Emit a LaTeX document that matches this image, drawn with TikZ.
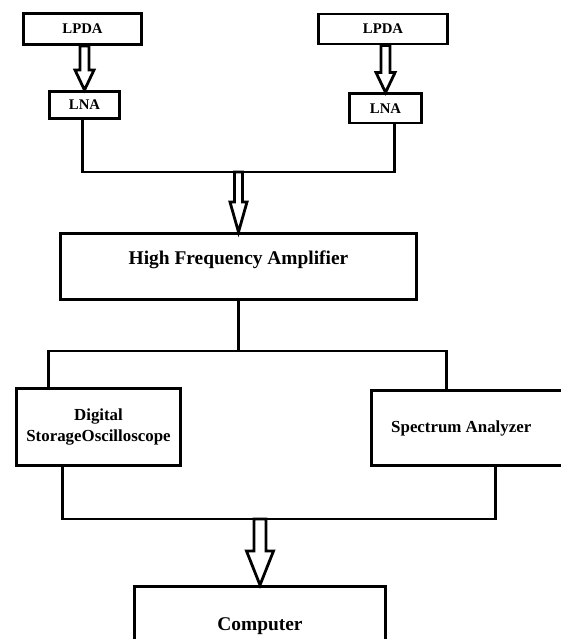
\documentclass[tikz,border=0pt]{standalone}
\usepackage{fontspec}
\setmainfont{Liberation Serif}
\usepackage{tikz}
\usetikzlibrary{positioning, calc}

\begin{document}
\begin{tikzpicture}[x=0.025cm, y=0.025cm,
        block/.style={draw, line width=2.1pt, inner sep=0pt, align=center},
        fsmall/.style={font=\bfseries\fontsize{10.5}{12}\selectfont},
        fmid/.style={font=\bfseries\fontsize{12}{15}\selectfont},
        fbig/.style={font=\bfseries\fontsize{13.8}{16}\selectfont},
        wire/.style={line width=2.1pt},
        hollow/.style n args={3}{line width=2pt, to path={
            ($(\tikztostart -| \tikztotarget)+(-#1,0)$) -- ($(\tikztotarget)+(-#1,#3)$)
            -- ($(\tikztotarget)+(-#2,#3)$) -- (\tikztotarget) -- ($(\tikztotarget)+(#2,#3)$)
            -- ($(\tikztotarget)+(#1,#3)$) -- ($(\tikztostart -| \tikztotarget)+(#1,0)$) -- cycle}}]
            \useasboundingbox (0,0) rectangle (560,-639);
            % \draw[help lines] (0,0) grid (560,-639);
            \node[block, fsmall, minimum width=2.95cm, minimum height=0.775cm] (lpda1) at (82.5,-29) {LPDA};
            \node[block, fsmall, minimum width=1.75cm, minimum height=0.675cm] (lna1) [below=1.1cm of lpda1, xshift=0.05cm] {LNA};
            \node[block, fsmall, minimum width=3.225cm, minimum height=0.75cm] (lpda2) [right=4.35cm of lpda1] {LPDA};
            \node[block, fsmall, minimum width=1.8cm, minimum height=0.725cm] (lna2) [below=1.175cm of lpda2, xshift=0.0625cm] {LNA};
            \coordinate (jtop) at (238.5,-172);
            \node[block, fbig, minimum width=8.9cm, minimum height=1.65cm] (hfa) at (238.5,-266.5) {\raisebox{1.2pt}[0pt][0pt]{High Frequency Amplifier}};
            \coordinate (jmid) at (238.5,-351);
            \node[block, fmid, minimum width=4.1cm, minimum height=1.925cm] (dso) at (98.5,-427) {Digital\\StorageOscilloscope};
            \node[block, fmid, minimum width=5.0875cm, minimum height=1.875cm] (sa) at (473.25,-428) {\hspace*{-17pt}Spectrum Analyzer};
            \coordinate (jbot) at (260,-519);
            \node[block, fbig, minimum width=6.275cm, minimum height=2cm] (comp) at (260,-626.5) {Computer};

            \draw[hollow={4.5}{9.5}{20}] (lpda1.south) to (lna1.north);
            \draw[hollow={4.5}{9.5}{20}] (lpda2.south) to (lna2.north);
            \draw[wire] ([xshift=-0.04cm]lna1.south) |- (jtop) -| ([xshift=0.2125cm]lna2.south);
            \draw[hollow={4}{8.5}{30}] (jtop) to (hfa.north);
            \draw[wire] (hfa.south) -- (jmid);
            \draw[wire] ([xshift=0.8375cm]dso.north west) |- (jmid) -| ([xshift=1.9125cm]sa.north west);
            \draw[wire] ([xshift=1.1875cm]dso.south west) |- (jbot) -| ([xshift=3.1375cm]sa.south west);
            \draw[hollow={6}{13.5}{34}] (jbot) to (comp.north);
        \end{tikzpicture}
\end{document}
